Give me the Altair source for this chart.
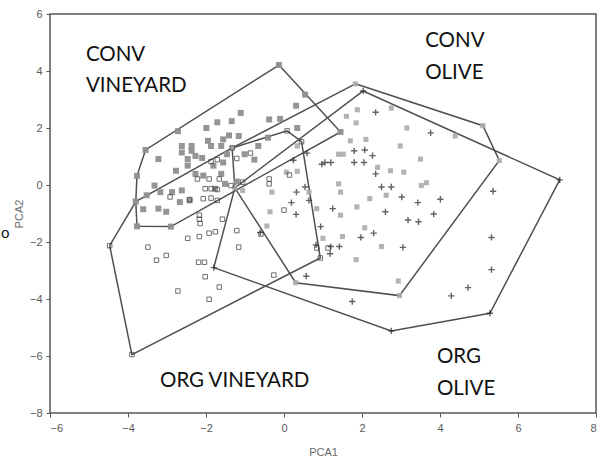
import altair as alt
import pandas as pd

# ---- scores on the first two principal components -------------------------
# conventional vineyard (filled grey squares)
conv_vine_x = [-0.13, 1.45, -2.90, -3.77, -3.80, -3.77, -3.55, -2.72, 0.54, 0.31,
               -1.11, -1.34, -1.71, -1.99, -0.38, -0.10, -1.16, -1.41, -1.56, -1.61,
               -1.87, -2.62, -2.37, -2.62, -2.37, -2.27, -3.22, -2.47, -1.81, -1.56,
               -1.46, -1.01, -0.76, -0.66, -0.41, 0.34, -2.77, -2.47, -2.27, -2.07,
               -1.61, -3.17, -2.87, -2.62, -3.52, -3.32, -3.61, -3.22, -3.02, -2.67,
               -2.42, -1.51, -1.77, -1.21, -1.95, -2.10]
conv_vine_y = [4.21, 1.86, -1.46, -1.45, -0.58, 0.32, 1.23, 1.89, 3.17, 2.78,
               2.53, 2.24, 2.20, 2.00, 2.30, 2.32, 1.72, 1.74, 1.60, 1.37,
               1.37, 1.37, 1.37, 1.14, 1.20, 1.02, 0.91, 0.91, 0.68, 0.79,
               1.08, 1.08, 0.89, 1.37, 1.66, 2.00, 0.50, 0.68, 0.39, 0.33,
               0.39, -0.25, -0.25, -0.19, -0.36, -0.02, -0.85, -0.83, -0.94, -0.60,
               -0.54, 0.04, -0.13, 0.12, 1.55, 0.95]

# organic vineyard (open squares)
org_vine_x = [-4.47, -3.90, 0.93, 0.08, 0.45, -1.33, -1.87, -1.71, -0.86, -1.21,
              -2.22, -1.92, -1.66, -2.02, -1.87, -1.71, -1.36, -1.06, -2.07, -1.87,
              -1.71, -2.42, -2.92, -2.17, -2.17, -2.15, -1.58, -2.47, -2.17, -1.92,
              -1.76, -1.21, -0.59, -1.16, -3.49, -3.02, -3.27, -2.19, -2.04, -2.02,
              -1.66, -2.72, -1.92, -0.26, 0.00, 0.14, -0.38, -0.38, 0.84, 1.13]
org_vine_y = [-2.13, -5.95, -2.56, 1.90, 1.52, 1.30, 0.82, 0.89, 1.12, 0.93,
              0.21, 0.21, 0.21, -0.13, -0.13, -0.16, -0.02, 0.10, -0.48, -0.46,
              -0.54, -0.51, -0.42, -1.06, -1.20, -1.35, -1.20, -1.87, -1.81, -1.69,
              -1.64, -1.60, -1.72, -2.18, -2.18, -2.47, -2.64, -2.71, -2.71, -3.22,
              -3.58, -3.72, -4.01, -3.16, -0.88, 0.35, 0.21, 0.04, -2.21, -2.21]

# conventional olive grove (grey dots)
conv_olive_x = [1.83, 5.10, 5.52, 2.96, 0.30, -1.26, -1.33, 1.88, 2.75, 3.15,
                4.39, 3.50, 2.98, 3.65, 3.07, 2.73, 1.40, 1.52, 1.70, 1.85,
                1.60, 2.10, 2.40, 1.40, 1.45, 0.64, -0.31, -0.36, 0.84, 1.45,
                1.87, 2.20, 2.62, 2.07, 1.50, 2.50, 1.85, 2.93, 3.52, 0.34,
                0.34, 0.06, 1.00, -0.44, -1.06]
conv_olive_y = [3.55, 2.08, 0.86, -3.88, -3.43, -0.10, 1.30, 2.64, 2.70, 2.00,
                1.72, 0.91, 1.37, 0.08, 0.45, 0.50, 1.08, 1.08, 1.55, 2.18,
                2.41, 1.60, 0.62, 0.04, -0.25, -0.25, -0.25, -0.94, -0.83, -1.06,
                -0.77, -0.48, -0.36, -1.50, -1.81, -2.16, -2.62, -3.37, -0.02, 1.37,
                0.48, 0.45, -1.87, -1.44, -0.19]

# organic olive grove (crosses)
org_olive_x = [2.03, 7.07, 5.28, 2.75, -1.80, 2.35, 3.76, 1.80, 2.07, 2.27,
               2.05, 1.80, 1.20, 1.05, 0.97, 0.24, 0.59, 2.35, 2.75, 2.50,
               3.02, 3.43, 4.01, 3.84, 2.60, 3.18, 3.45, 2.30, 1.97, 3.05,
               5.36, 5.32, 5.32, 4.72, 4.29, 1.75, 0.57, 0.82, 1.20, 1.42,
               1.18, 1.25, 0.94, 0.31, 0.19, 0.32, 0.54, 0.64, -0.61]
org_olive_y = [3.30, 0.18, -4.50, -5.12, -2.90, 2.55, 1.83, 1.20, 1.23, 1.03,
               0.79, 0.79, 0.79, 0.79, 0.73, 0.87, 1.12, 0.39, -0.07, -0.07,
               -0.42, -0.62, -0.50, -1.02, -0.94, -1.23, -1.29, -1.69, -1.84, -2.19,
               -0.22, -1.84, -2.97, -3.60, -3.89, -4.09, -3.20, -2.10, -2.16, -2.16,
               -2.41, -0.83, -1.46, -1.03, -0.62, -0.25, -0.07, -0.54, -1.67]

# ---- convex hull of each group, vertices in drawing order ------------------
conv_vine_hull_x = [-0.13, 1.45, -2.90, -3.77, -3.80, -3.77, -3.55]
conv_vine_hull_y = [4.21, 1.86, -1.46, -1.45, -0.58, 0.32, 1.23]
org_vine_hull_x = [-4.47, -3.80, -1.33, 0.08, 0.45, 0.93, -3.90]
org_vine_hull_y = [-2.13, -0.58, 1.30, 1.90, 1.52, -2.56, -5.95]
conv_olive_hull_x = [1.83, 5.10, 5.52, 2.96, 0.30, -1.26, -1.33]
conv_olive_hull_y = [3.55, 2.08, 0.86, -3.88, -3.43, -0.10, 1.30]
org_olive_hull_x = [2.03, 7.07, 5.28, 2.75, -1.80, -1.26]
org_olive_hull_y = [3.30, 0.18, -4.50, -5.12, -2.90, -0.10]

# ---- group labels -----------------------------------------------------------
label_text = ["CONV", "VINEYARD", "CONV", "OLIVE", "ORG VINEYARD", "ORG", "OLIVE"]
label_x = [-5.08, -5.08, 3.62, 3.62, -3.18, 3.92, 3.92]
label_y = [4.56, 3.47, 5.05, 3.93, -6.88, -6.04, -7.16]

x_ticks = [-6, -4, -2, 0, 2, 4, 6, 8]
y_ticks = [-8, -6, -4, -2, 0, 2, 4, 6]


def points(xs, ys):
    return pd.DataFrame({"PCA1": xs, "PCA2": ys})


def hull(name, xs, ys):
    # repeat the first vertex so the outline closes
    xs = list(xs) + [xs[0]]
    ys = list(ys) + [ys[0]]
    return pd.DataFrame({"group": name, "order": range(len(xs)), "PCA1": xs, "PCA2": ys})


hulls = pd.concat([
    hull("CONV VINEYARD", conv_vine_hull_x, conv_vine_hull_y),
    hull("ORG VINEYARD", org_vine_hull_x, org_vine_hull_y),
    hull("CONV OLIVE", conv_olive_hull_x, conv_olive_hull_y),
    hull("ORG OLIVE", org_olive_hull_x, org_olive_hull_y),
], ignore_index=True)

labels = pd.DataFrame({"text": label_text, "PCA1": label_x, "PCA2": label_y})

axis_style = dict(
    grid=False, domain=False, ticks=True, tickSize=4, tickColor="#555555",
    labelColor="#5a5a5a", labelFont="Liberation Sans", labelFontSize=11,
    titleColor="#6a6a6a", titleFont="Liberation Sans", titleFontSize=11,
    titleFontWeight="normal",
)

x_enc = alt.X("PCA1:Q", scale=alt.Scale(domain=[-6, 8], nice=False, zero=False),
              axis=alt.Axis(values=x_ticks, labelPadding=5, titlePadding=13, **axis_style))
y_enc = alt.Y("PCA2:Q", scale=alt.Scale(domain=[-8, 6], nice=False, zero=False),
              axis=alt.Axis(values=y_ticks, labelPadding=4, titlePadding=5, **axis_style))

outline = alt.Chart(hulls).mark_line(color="#505050", strokeWidth=1.5).encode(
    x=x_enc, y=y_enc, detail="group:N", order="order:Q"
)

conv_olive = alt.Chart(points(conv_olive_x, conv_olive_y)).mark_square(
    size=26, color="#ababab", opacity=0.9
).encode(x="PCA1:Q", y="PCA2:Q")

conv_vine = alt.Chart(points(conv_vine_x, conv_vine_y)).mark_square(
    size=36, color="#8f8f8f", opacity=0.95
).encode(x="PCA1:Q", y="PCA2:Q")

org_vine = alt.Chart(points(org_vine_x, org_vine_y)).mark_square(
    size=20, filled=False, color="#333333", strokeWidth=1
).encode(x="PCA1:Q", y="PCA2:Q")

org_olive = alt.Chart(points(org_olive_x, org_olive_y)).mark_point(
    shape="M-1,0L1,0M0,-1L0,1", size=40, filled=False, color="#222222", strokeWidth=1.4
).encode(x="PCA1:Q", y="PCA2:Q")

text = alt.Chart(labels).mark_text(
    font="Lato", fontSize=20.5, align="left", baseline="middle", color="#111111"
).encode(x="PCA1:Q", y="PCA2:Q", text="text:N")

# small glyph at the left page edge
edge_glyph = alt.Chart(pd.DataFrame({"t": ["o"]})).mark_text(
    font="Lato", fontSize=15, align="left", baseline="middle", color="#111111"
).encode(x=alt.value(-49), y=alt.value(219), text="t:N")

chart = alt.layer(outline, conv_olive, conv_vine, org_vine, org_olive, text, edge_glyph).properties(
    width=546, height=399,
    autosize=alt.AutoSizeParams(type="none"),
    padding={"left": 50, "top": 14, "right": 17, "bottom": 54},
    background="white",
).configure_view(stroke="#555555", strokeWidth=1.5)

chart.save("out.html", embed_options={"renderer": "svg", "actions": False})
